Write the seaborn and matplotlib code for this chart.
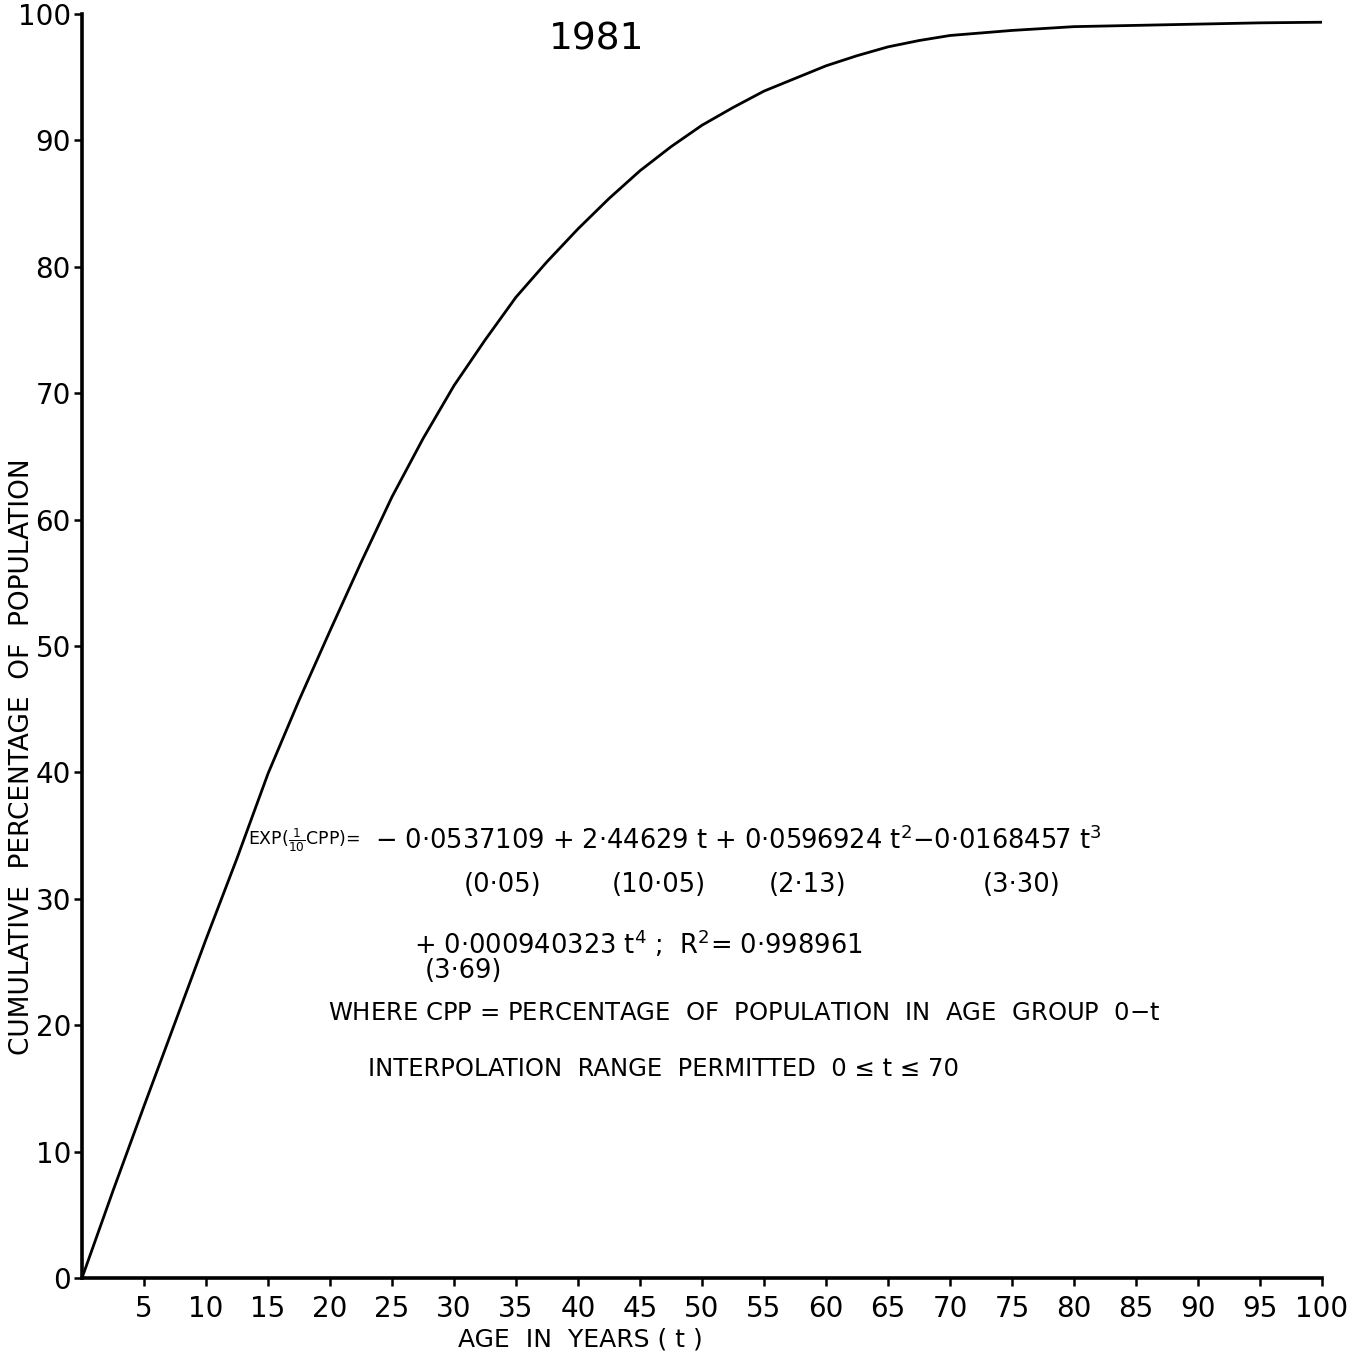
import numpy as np
import pandas as pd
import seaborn as sns
import matplotlib.pyplot as plt

# Curve values (age t in years -> cumulative %)
ages = [0, 2.5, 5, 7.5, 10, 12.5, 15, 17.5, 20, 22.5, 25, 27.5, 30,
        32.5, 35, 37.5, 40, 42.5, 45, 47.5, 50, 52.5, 55, 57.5, 60,
        62.5, 65, 67.5, 70, 75, 80, 85, 90, 95, 100]
cum_pct = [0, 6.9, 13.6, 20.2, 26.8, 33.2, 39.9, 45.7, 51.2, 56.6, 61.8,
           66.4, 70.6, 74.2, 77.6, 80.4, 83.0, 85.4, 87.6, 89.5, 91.2,
           92.6, 93.9, 94.9, 95.9, 96.7, 97.4, 97.9, 98.3, 98.7, 99.0,
           99.1, 99.2, 99.3, 99.35]

x_ticks = list(range(5, 101, 5))
y_ticks = list(range(0, 101, 10))

# standard errors shown under the coefficients
se_labels = ["(0·05)", "(10·05)", "(2·13)", "(3·30)"]
se_pos = [33.9, 46.5, 58.5, 75.8]

df = pd.DataFrame({"age": ages, "cpp": cum_pct})

sns.set_style("ticks")
plt.rcParams["font.family"] = ["DejaVu Sans"]
plt.rcParams["mathtext.fontset"] = "dejavusans"
plt.rcParams["text.color"] = "black"
plt.rcParams["xtick.color"] = "black"
plt.rcParams["ytick.color"] = "black"

W, H = 1362, 1357
fig = plt.figure(figsize=(W / 100, H / 100), dpi=100)
ax = fig.add_axes([82 / W, 79 / H, 1240 / W, 1264 / H])

sns.lineplot(data=df, x="age", y="cpp", ax=ax, color="black", linewidth=2.0)

ax.set_xlim(0, 100)
ax.set_ylim(0, 100)
ax.set_xticks(x_ticks)
ax.set_yticks(y_ticks)
ax.tick_params(axis="both", direction="out", length=6, width=1.8,
               labelsize=20, pad=2, colors="black")
ax.tick_params(axis="x", pad=6)
sns.despine(ax=ax)
for side in ["left", "bottom"]:
    ax.spines[side].set_linewidth(2.6)
    ax.spines[side].set_color("black")
ax.set_xlabel("")
ax.set_ylabel("")

# axis titles
fig.text(22 / W, 1 - 757 / H, "CUMULATIVE  PERCENTAGE  OF  POPULATION",
         rotation=90, ha="center", va="center", fontsize=19)
fig.text(580 / W, 1 - 1340 / H, "AGE  IN  YEARS ( t )",
         ha="center", va="center", fontsize=18)
fig.text(597 / W, 1 - 40 / H, "1981", ha="center", va="center", fontsize=27)

# fitted equation block
ax.text(13.4, 34.6, r"EXP($\frac{1}{10}$CPP)=", fontsize=12.5, va="center")
ax.text(23.6, 34.6,
        r"$-$ 0·0537109 + 2·44629 t + 0·0596924 t$^2$$-$0·0168457 t$^3$",
        fontsize=18.5, va="center")
for lab, xp in zip(se_labels, se_pos):
    ax.text(xp, 31.1, lab, fontsize=18.5, ha="center", va="center")
ax.text(26.8, 26.4, r"+ 0·000940323 t$^4$ ;  R$^2$= 0·998961",
        fontsize=18.5, va="center")
ax.text(30.8, 24.3, "(3·69)", fontsize=18.5, ha="center", va="center")
ax.text(19.8, 21.0,
        "WHERE CPP = PERCENTAGE  OF  POPULATION  IN  AGE  GROUP  0$-$t",
        fontsize=17.5, va="center")
ax.text(23.1, 16.5, "INTERPOLATION  RANGE  PERMITTED  0 ≤ t ≤ 70",
        fontsize=17.5, va="center")

fig.savefig("out.png", dpi=100, facecolor="white")
